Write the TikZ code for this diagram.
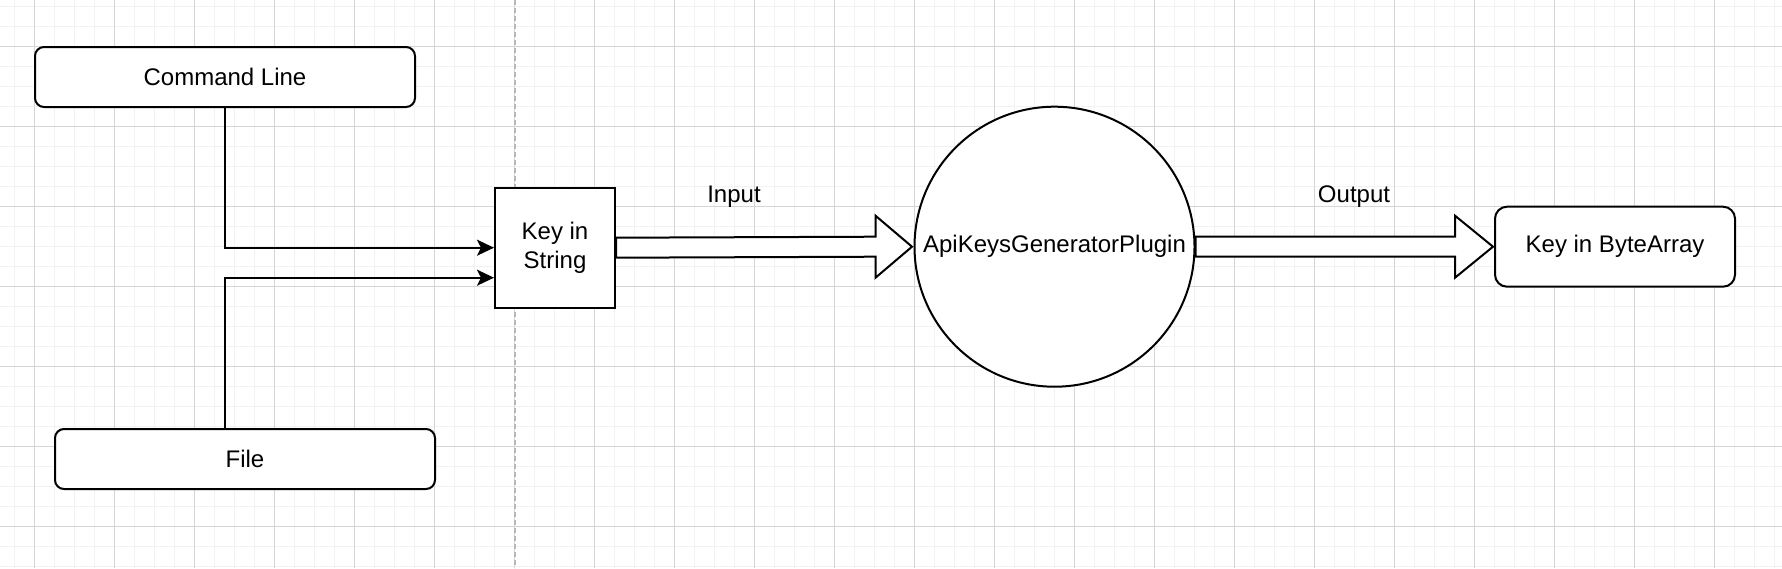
\documentclass[tikz,border=0pt]{standalone}
\usepackage{fontspec}
\setmainfont{Liberation Sans}
\usetikzlibrary{calc,arrows.meta}
\definecolor{minorgrid}{HTML}{F2F2F2}
\definecolor{majorgrid}{HTML}{D5D5D5}
\definecolor{dashgray}{HTML}{B8B8B8}
\tikzset{
  lbl/.style={font=\fontsize{24}{28.8}\selectfont, text=black},
  boxr/.style={draw=black, line width=2pt, fill=white, rounded corners=9pt, minimum width=380pt, minimum height=60pt, inner sep=0pt, lbl},
  sqbox/.style={draw=black, line width=2pt, fill=white, minimum width=120pt, minimum height=120pt, inner sep=0pt, align=center, lbl},
  circ/.style={draw=black, line width=2pt, fill=white, circle, minimum size=280pt, inner sep=0pt, lbl},
  conn/.style={draw=black, line width=2pt, -{Stealth[length=17pt,width=16pt,inset=4pt]}},
  blockarrow/.style={draw=black, line width=2pt, fill=white, line join=miter},
}
\begin{document}
\begin{tikzpicture}[x=1pt,y=-1pt]
\useasboundingbox (0,0) rectangle (1782,568);
\fill[white] (0,0) rectangle (1782,568);
% grid
\foreach \i in {0,...,88} \draw[minorgrid, line width=1pt] (14.7+20*\i,0) -- (14.7+20*\i,568);
\foreach \j in {0,...,28} \draw[minorgrid, line width=1pt] (0,6.7+20*\j) -- (1782,6.7+20*\j);
\foreach \i in {0,...,21} \draw[majorgrid, line width=1pt] (34.7+80*\i,0) -- (34.7+80*\i,568);
\foreach \j in {0,...,6} \draw[majorgrid, line width=1pt] (0,46.7+80*\j) -- (1782,46.7+80*\j);
% dashed separator
\coordinate (sepTop) at (515,0);
\coordinate (sepBot) at (515,568);
\draw[dashgray, line width=1.2pt, dash pattern=on 5pt off 3pt] (sepTop) -- (sepBot);

% nodes
\node[boxr] (cl) at (225,77) {Command Line};
\node[boxr] (file) at (245,459) {File};
\node[sqbox] (key) at (555,247.7) {Key in\\String};
\node[circ] (plugin) at (1054.5,246.7) {ApiKeysGeneratorPlugin};
\node[boxr, rounded corners=12pt, minimum width=240pt, minimum height=80pt] (byte) at (1615,246.7) {Key in ByteArray};
\node[lbl] (inlbl) at (734,196.7) {Input};
\node[lbl] (outlbl) at (1354,196.7) {Output};

% connectors
\draw[conn] (cl.south) |- (key.west);
\draw[conn] ([xshift=-20pt]file.north) |- ([yshift=-30pt]key.west);

% block arrows
\draw[blockarrow] ($(key.east)+(0,-10)$) -- ($(plugin.west)+(-38,-10)$) -- ($(plugin.west)+(-38,-31)$) -- ($(plugin.west)+(-1.5,0)$) -- ($(plugin.west)+(-38,31)$) -- ($(plugin.west)+(-38,10)$) -- ($(key.east)+(0,10)$) -- cycle;
\draw[blockarrow] ($(plugin.east)+(0,-10)$) -- ($(byte.west)+(-39,-10)$) -- ($(byte.west)+(-39,-31)$) -- ($(byte.west)+(-1,0)$) -- ($(byte.west)+(-39,31)$) -- ($(byte.west)+(-39,10)$) -- ($(plugin.east)+(0,10)$) -- cycle;
\end{tikzpicture}
\end{document}
